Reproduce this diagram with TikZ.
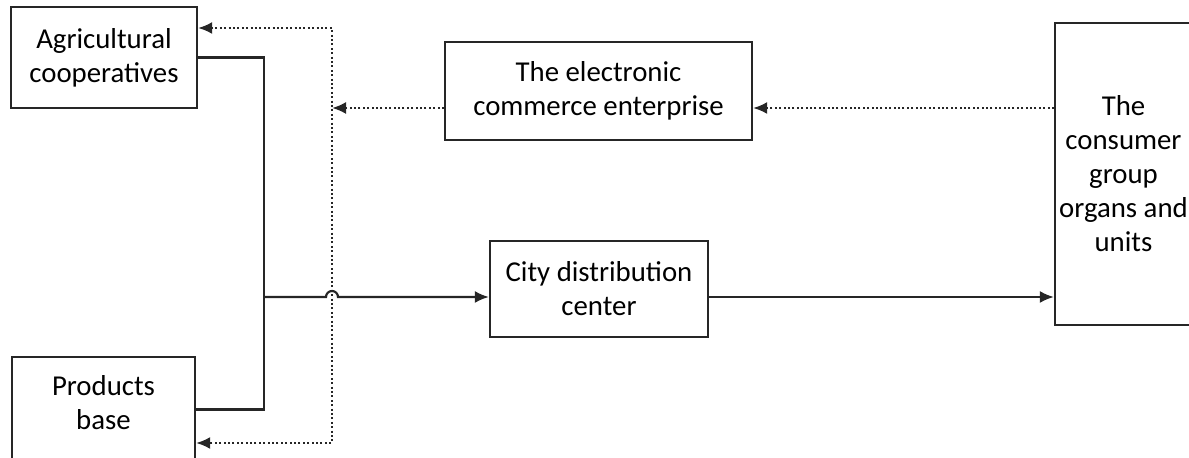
\documentclass[tikz,border=0pt]{standalone}
\usepackage{fontspec}
\setmainfont{Carlito}
\usetikzlibrary{arrows.meta}
\begin{document}
\begin{tikzpicture}[
            x=0.5pt, y=-0.5pt,
            every node/.style={draw=black!85, line width=1.1pt, align=center, inner sep=0pt,
                font=\fontsize{14.4}{17}\selectfont},
            flow/.style={draw=black!85, line width=1.1pt},
            feed/.style={draw=black!85, line width=1.1pt, dash pattern=on 1pt off 1.2pt},
            tip/.style={-{Latex[length=7pt,width=6pt]}},
        ]
        \useasboundingbox (0,0) rectangle (1189,458);
        \clip (0,0) rectangle (1189,458);
        % boxes
        \node[minimum width=93pt, minimum height=50.5pt] (agri) at (104,57.5) {Agricultural\\cooperatives};
        \node[minimum width=91.5pt, minimum height=52.5pt] (prod) at (103.5,409.5) {};
        \node[draw=none] (prodtext) at (103.5,403) {Products\\base};
        \node[minimum width=153.5pt, minimum height=49pt] (ecom) at (598.5,91) {The electronic\\commerce enterprise};
        \node[minimum width=109pt, minimum height=48pt] (city) at (599,289) {City distribution\\center};
        \node[minimum width=68.5pt, minimum height=151pt] (cons) at (1123.5,174) {The\\consumer\\group\\organs and\\units};
        % junctions
        \coordinate (jn) at (264,297);
        \coordinate (ret) at (332,108);
        \coordinate (rtop) at (332,28);
        \coordinate (rbot) at (332,443);
        % goods flow
        \draw[flow] (agri.east) -| (jn);
        \draw[flow] (prod.east) -| (jn);
        \draw[flow, tip] (jn) -- (326,297) arc (180:360:6) -- (jn -| city.west);
        \draw[flow, tip] (jn -| city.east) -- (jn -| cons.west);
        % information flow
        \draw[feed, tip] (ret -| cons.west) -- (ret -| ecom.east);
        \draw[feed, tip] (ret -| ecom.west) -- (ret);
        \draw[feed, {Latex[length=7pt,width=6pt]}-{Latex[length=7pt,width=6pt]}]
            (rtop -| agri.east) -- (rtop) -- (rbot) -- (rbot -| prod.east);
\end{tikzpicture}
\end{document}
